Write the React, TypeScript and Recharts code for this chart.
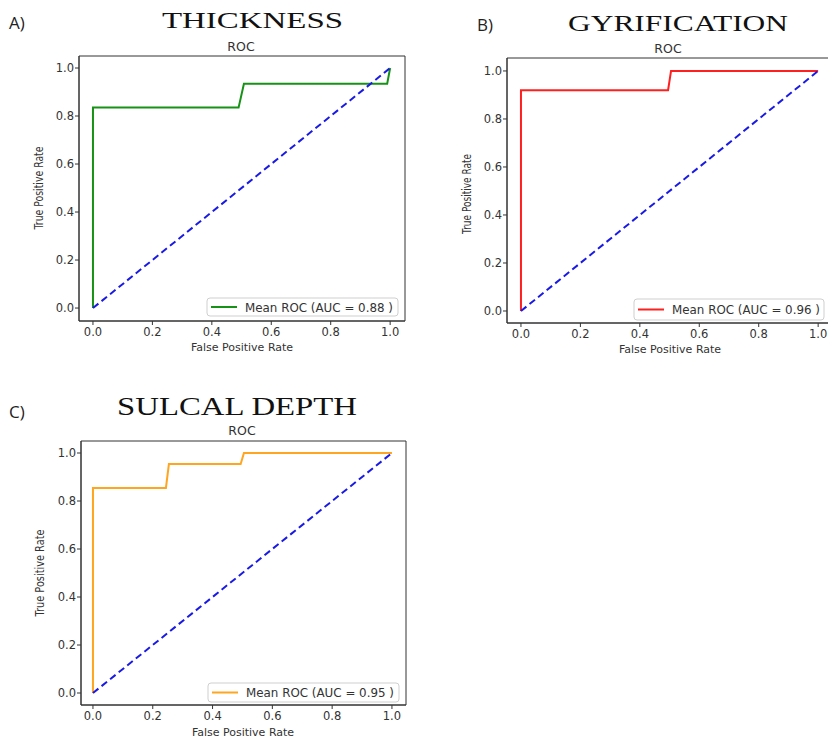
import React from "react";
import { LineChart, Line, XAxis, YAxis, ReferenceArea } from "recharts";

// ---- data ----
const axisTicks = [0, 0.2, 0.4, 0.6, 0.8, 1.0];

const thicknessFpr = [0, 0, 0.49, 0.508, 0.99, 1.0];
const thicknessTpr = [0, 0.835, 0.835, 0.934, 0.934, 1.0];

const gyrificationFpr = [0, 0, 0.495, 0.505, 1.0];
const gyrificationTpr = [0, 0.92, 0.92, 1.0, 1.0];

const sulcalFpr = [0, 0, 0.244, 0.254, 0.494, 0.505, 1.0];
const sulcalTpr = [0, 0.854, 0.854, 0.954, 0.954, 1.0, 1.0];

const chanceFpr = [0, 1];
const chanceTpr = [0, 1];

const panelTitles = ["THICKNESS", "GYRIFICATION", "SULCAL DEPTH"];
const panelLetters = ["A)", "B)", "C)"];
const aucValues = ["0.88", "0.96", "0.95"];

const toPoints = (xs: number[], ys: number[]) => xs.map((x, i) => ({ x, y: ys[i] }));

const thicknessData = toPoints(thicknessFpr, thicknessTpr);
const gyrificationData = toPoints(gyrificationFpr, gyrificationTpr);
const sulcalData = toPoints(sulcalFpr, sulcalTpr);
const chanceData = toPoints(chanceFpr, chanceTpr);

const tickStyle = { fill: "#333", fontSize: 11.5, fontFamily: "DejaVu Sans" };

type PanelProps = {
  plotLeft: number;
  plotTop: number;
  plotW: number;
  plotH: number;
  xDomain: [number, number];
  yDomain: [number, number];
  roc: { x: number; y: number }[];
  color: string;
};

function RocPanel({ plotLeft, plotTop, plotW, plotH, xDomain, yDomain, roc, color }: PanelProps) {
  return (
    <div style={{ position: "absolute", left: plotLeft - 50, top: plotTop - 10 }}>
      <LineChart width={plotW + 60} height={plotH + 50} margin={{ top: 10, right: 10, left: 0, bottom: 10 }}>
        <XAxis
          type="number"
          dataKey="x"
          domain={xDomain}
          allowDataOverflow
          ticks={axisTicks}
          interval={0}
          tickFormatter={(v: number) => v.toFixed(1)}
          height={30}
          tickSize={4}
          tickMargin={3}
          stroke="#333"
          tick={tickStyle}
        />
        <YAxis
          type="number"
          dataKey="y"
          domain={yDomain}
          allowDataOverflow
          ticks={axisTicks}
          interval={0}
          tickFormatter={(v: number) => v.toFixed(1)}
          width={50}
          tickSize={4}
          tickMargin={1}
          stroke="#333"
          tick={tickStyle}
        />
        <ReferenceArea
          x1={xDomain[0]}
          x2={xDomain[1]}
          y1={yDomain[0]}
          y2={yDomain[1]}
          fill="#ffffff"
          fillOpacity={0}
          stroke="#333"
          strokeWidth={1}
        />
        <Line
          data={roc}
          dataKey="y"
          type="linear"
          stroke={color}
          strokeWidth={2}
          dot={false}
          isAnimationActive={false}
        />
        <Line
          data={chanceData}
          dataKey="y"
          type="linear"
          stroke="#1a1ae6"
          strokeWidth={2}
          strokeDasharray="7 4"
          dot={false}
          isAnimationActive={false}
        />
      </LineChart>
    </div>
  );
}

function Legend({ x, y, w, h, color, auc }: { x: number; y: number; w: number; h: number; color: string; auc: string }) {
  return (
    <g>
      <rect x={x} y={y} width={w} height={h} rx={3} fill="#fff" fillOpacity={0.85} stroke="#cfcfcf" />
      <line x1={x + 4} x2={x + 30} y1={y + h / 2} y2={y + h / 2} stroke={color} strokeWidth={2} />
      <text x={x + 38} y={y + h / 2 + 4.5} fontSize={12} fontFamily="DejaVu Sans" fill="#333" textLength={148} lengthAdjust="spacingAndGlyphs">
        {`Mean ROC (AUC = ${auc} )`}
      </text>
    </g>
  );
}

export default function App() {
  const serif = "Liberation Serif, Times New Roman, serif";
  const sans = "DejaVu Sans";
  return (
    <div style={{ position: "absolute", left: 0, top: 0, width: 828, height: 739, overflow: "hidden", background: "#fff" }}>
      <RocPanel plotLeft={79} plotTop={56} plotW={326} plotH={265} xDomain={[-0.047, 1.05]} yDomain={[-0.054, 1.05]} roc={thicknessData} color="#169216" />
      <RocPanel plotLeft={507} plotTop={58} plotW={326} plotH={265} xDomain={[-0.047, 1.05]} yDomain={[-0.05, 1.054]} roc={gyrificationData} color="#ff1f1f" />
      <RocPanel plotLeft={81} plotTop={441} plotW={325} plotH={264} xDomain={[-0.04, 1.047]} yDomain={[-0.05, 1.05]} roc={sulcalData} color="#ffa51f" />

      <svg width={828} height={739} style={{ position: "absolute", left: 0, top: 0, pointerEvents: "none" }}>
        {/* panel letters */}
        <text x={9} y={29} fontSize={17} fontFamily="Open Sans" fill="#222">{panelLetters[0]}</text>
        <text x={477} y={31} fontSize={17} fontFamily="Open Sans" fill="#222">{panelLetters[1]}</text>
        <text x={9} y={418} fontSize={17} fontFamily="Open Sans" fill="#222">{panelLetters[2]}</text>

        {/* big titles */}
        <text x={162} y={28} fontSize={24} fontFamily={serif} fill="#111" textLength={181} lengthAdjust="spacingAndGlyphs">{panelTitles[0]}</text>
        <text x={568} y={31} fontSize={24} fontFamily={serif} fill="#111" textLength={220} lengthAdjust="spacingAndGlyphs">{panelTitles[1]}</text>
        <text x={117} y={415} fontSize={26} fontFamily={serif} fill="#111" textLength={240} lengthAdjust="spacingAndGlyphs">{panelTitles[2]}</text>

        {/* ROC subtitles */}
        <text x={241} y={51} fontSize={12.5} fontFamily={sans} fill="#333" textAnchor="middle">ROC</text>
        <text x={668} y={53} fontSize={12.5} fontFamily={sans} fill="#333" textAnchor="middle">ROC</text>
        <text x={242} y={435} fontSize={12.5} fontFamily={sans} fill="#333" textAnchor="middle">ROC</text>

        {/* y labels */}
        <text transform="translate(43,188) rotate(-90)" fontSize={11.5} fontFamily={sans} fill="#333" textAnchor="middle" textLength={83} lengthAdjust="spacingAndGlyphs">True Positive Rate</text>
        <text transform="translate(471,194) rotate(-90)" fontSize={11.5} fontFamily={sans} fill="#333" textAnchor="middle" textLength={80} lengthAdjust="spacingAndGlyphs">True Positive Rate</text>
        <text transform="translate(44,573) rotate(-90)" fontSize={11.5} fontFamily={sans} fill="#333" textAnchor="middle" textLength={87} lengthAdjust="spacingAndGlyphs">True Positive Rate</text>

        {/* x labels */}
        <text x={242} y={351} fontSize={11} fontFamily={sans} fill="#333" textAnchor="middle">False Positive Rate</text>
        <text x={670} y={353} fontSize={11} fontFamily={sans} fill="#333" textAnchor="middle">False Positive Rate</text>
        <text x={243} y={736} fontSize={11} fontFamily={sans} fill="#333" textAnchor="middle">False Positive Rate</text>

        {/* legends */}
        <Legend x={207} y={298} w={191} h={18} color="#169216" auc={aucValues[0]} />
        <Legend x={634} y={299} w={190} h={21} color="#ff1f1f" auc={aucValues[1]} />
        <Legend x={208} y={683} w={191} h={19} color="#ffa51f" auc={aucValues[2]} />
      </svg>
    </div>
  );
}
